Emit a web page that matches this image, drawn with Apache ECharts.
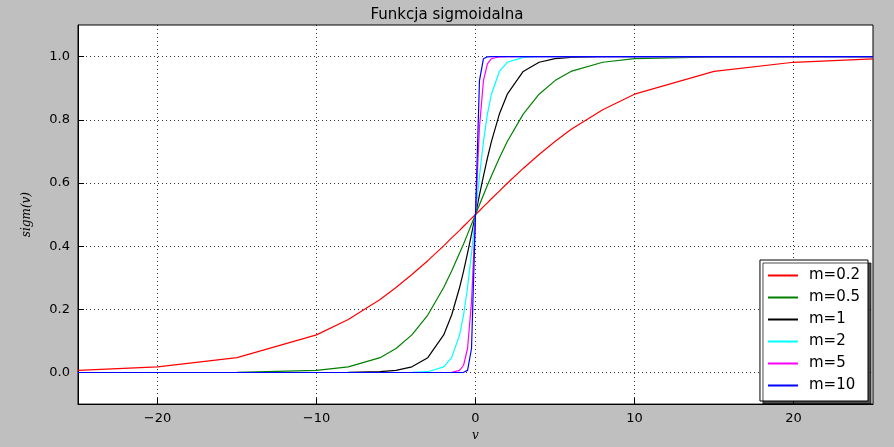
<!DOCTYPE html><html><head><meta charset="utf-8">
<script src="https://cdn.jsdelivr.net/npm/echarts@6/dist/echarts.min.js"></script>
<style>html,body{margin:0;background:#bfbfbf}#c{width:894px;height:447px}</style></head><body><div id="c"></div>
<script>
const xs=[-25,-20,-15,-10,-8,-6,-5,-4,-3,-2,-1.5,-1,-0.75,-0.5,-0.25,0,0.25,0.5,0.75,1,1.5,2,3,4,5,6,8,10,15,20,25];
const m02=[0.0067,0.018,0.047,0.119,0.168,0.231,0.269,0.310,0.354,0.401,0.426,0.450,0.463,0.475,0.488,0.5,0.512,0.525,0.537,0.550,0.574,0.599,0.646,0.690,0.731,0.769,0.832,0.881,0.953,0.982,0.993];
const m05=[0,0.00005,0.00055,0.0067,0.018,0.047,0.076,0.119,0.182,0.269,0.321,0.378,0.407,0.438,0.469,0.5,0.531,0.562,0.593,0.622,0.679,0.731,0.818,0.881,0.924,0.953,0.982,0.9933,0.9994,1,1];
const m1=[0,0,0,0.00005,0.00034,0.0025,0.0067,0.018,0.047,0.119,0.182,0.269,0.321,0.378,0.438,0.5,0.562,0.622,0.679,0.731,0.818,0.881,0.953,0.982,0.9933,0.9975,0.9997,1,1,1,1];
const m2=[0,0,0,0,0,0,0.00005,0.00034,0.0025,0.018,0.047,0.119,0.182,0.269,0.378,0.5,0.622,0.731,0.818,0.881,0.953,0.982,0.9975,0.9997,1,1,1,1,1,1,1];
const m5=[0,0,0,0,0,0,0,0,0,0.00005,0.00055,0.0067,0.023,0.076,0.223,0.5,0.777,0.924,0.977,0.9933,0.9994,1,1,1,1,1,1,1,1,1,1];
const m10=[0,0,0,0,0,0,0,0,0,0,0,0.00005,0.00055,0.0067,0.076,0.5,0.924,0.9933,0.9994,1,1,1,1,1,1,1,1,1,1,1,1];
const xTicks=[-20,-10,0,10,20];
const names=['m=0.2','m=0.5','m=1','m=2','m=5','m=10'];
const colors=['#ff0000','#008000','#000000','#00ffff','#ff00ff','#0000ff'];
const sets=[m02,m05,m1,m2,m5,m10];
const ch=echarts.init(document.getElementById('c'));
const sl={show:true,lineStyle:{color:'#000',type:[1,3],width:0.8}};
const tk={inside:true,length:6,lineStyle:{color:'#000'}};
const al={show:true,onZero:false,lineStyle:{color:'#000'}};
ch.setOption({
 backgroundColor:'#bfbfbf',
 title:{text:'Funkcja sigmoidalna',left:'center',top:3,textStyle:{fontSize:15,fontWeight:'normal',color:'#000',fontFamily:'DejaVu Sans'}},
 grid:{left:78,right:21,top:25,bottom:38,show:true,backgroundColor:'#fff',borderColor:'#000',borderWidth:1},
 xAxis:{type:'value',min:-25,max:25,name:'v',nameLocation:'middle',nameGap:22,
  nameTextStyle:{fontStyle:'italic',fontFamily:'DejaVu Serif',fontSize:12,color:'#000'},
  axisLine:al,axisTick:Object.assign({customValues:xTicks},tk),splitLine:sl,
  axisLabel:{customValues:xTicks,color:'#000',fontSize:13,fontFamily:'DejaVu Sans',formatter:v=>v<0?'\u2212'+(-v):String(v)}},
 yAxis:{type:'value',min:-0.1,max:1.1,name:'sigm(v)',nameLocation:'middle',nameGap:45,
  nameTextStyle:{fontStyle:'italic',fontFamily:'DejaVu Serif',fontSize:12,color:'#000'},
  axisLine:al,axisTick:Object.assign({customValues:[0,0.2,0.4,0.6,0.8,1.0]},tk),splitLine:sl,
  axisLabel:{customValues:[0,0.2,0.4,0.6,0.8,1.0],color:'#000',fontSize:13,fontFamily:'DejaVu Sans',formatter:v=>v.toFixed(1)}},
 legend:{orient:'vertical',right:26,bottom:46,backgroundColor:'#fff',borderColor:'#000',borderWidth:1,borderRadius:0,
  padding:[8,8,8,8],itemGap:7,itemWidth:30,itemHeight:2,icon:'rect',
  shadowColor:'rgba(0,0,0,0.7)',shadowOffsetX:3,shadowOffsetY:3,shadowBlur:0,
  textStyle:{fontSize:15,color:'#000',fontFamily:'DejaVu Sans',padding:[0,0,0,6]},data:names},
 series:sets.map((s,i)=>({name:names[i],type:'line',data:xs.map((x,j)=>[x,s[j]]),showSymbol:false,
  lineStyle:{color:colors[i],width:1.2},itemStyle:{color:colors[i]},animation:false}))
});
</script></body></html>
